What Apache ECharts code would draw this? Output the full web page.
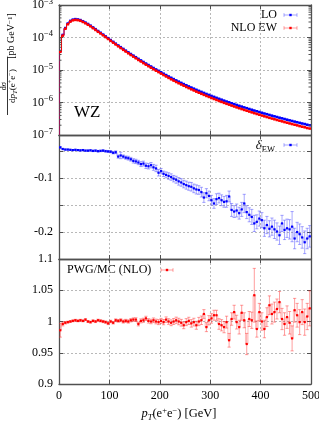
<!DOCTYPE html>
<html><head><meta charset="utf-8">
<script src="https://cdn.jsdelivr.net/npm/echarts@6/dist/echarts.min.js"></script>
<style>html,body{margin:0;padding:0;background:#fff}#c{width:319px;height:421px}</style>
</head><body><div id="c"></div>
<script>
// ---------- data ----------
const binWidth = 5;
const binCenters = [2.5,7.5,12.5,17.5,22.5,27.5,32.5,37.5,42.5,47.5,
52.5,57.5,62.5,67.5,72.5,77.5,82.5,87.5,92.5,97.5,
102.5,107.5,112.5,117.5,122.5,127.5,132.5,137.5,142.5,147.5,
152.5,157.5,162.5,167.5,172.5,177.5,182.5,187.5,192.5,197.5,
202.5,207.5,212.5,217.5,222.5,227.5,232.5,237.5,242.5,247.5,
252.5,257.5,262.5,267.5,272.5,277.5,282.5,287.5,292.5,297.5,
302.5,307.5,312.5,317.5,322.5,327.5,332.5,337.5,342.5,347.5,
352.5,357.5,362.5,367.5,372.5,377.5,382.5,387.5,392.5,397.5,
402.5,407.5,412.5,417.5,422.5,427.5,432.5,437.5,442.5,447.5,
452.5,457.5,462.5,467.5,472.5,477.5,482.5,487.5,492.5,497.5];

const loXsec = [3.80e-5,1.20e-4,1.95e-4,2.69e-4,3.24e-4,3.55e-4,3.67e-4,3.59e-4,3.43e-4,3.16e-4,
2.88e-4,2.60e-4,2.32e-4,2.04e-4,1.80e-4,1.58e-4,1.40e-4,1.23e-4,1.08e-4,9.51e-5,
8.35e-5,7.34e-5,6.46e-5,5.69e-5,5.03e-5,4.45e-5,3.94e-5,3.49e-5,3.10e-5,2.77e-5,
2.47e-5,2.20e-5,1.97e-5,1.76e-5,1.58e-5,1.42e-5,1.28e-5,1.15e-5,1.04e-5,9.44e-6,
8.51e-6,7.69e-6,6.97e-6,6.32e-6,5.75e-6,5.24e-6,4.78e-6,4.38e-6,4.01e-6,3.68e-6,
3.39e-6,3.12e-6,2.88e-6,2.66e-6,2.46e-6,2.28e-6,2.12e-6,1.97e-6,1.83e-6,1.71e-6,
1.59e-6,1.49e-6,1.39e-6,1.30e-6,1.22e-6,1.14e-6,1.07e-6,1.01e-6,9.47e-7,8.91e-7,
8.39e-7,7.91e-7,7.47e-7,7.05e-7,6.67e-7,6.31e-7,5.97e-7,5.65e-7,5.36e-7,5.09e-7,
4.83e-7,4.58e-7,4.36e-7,4.14e-7,3.94e-7,3.75e-7,3.57e-7,3.40e-7,3.25e-7,3.10e-7,
2.96e-7,2.82e-7,2.70e-7,2.58e-7,2.47e-7,2.36e-7,2.26e-7,2.17e-7,2.07e-7,1.99e-7];

const nloXsec = [3.64e-5,1.145e-4,1.86e-4,2.56e-4,3.08e-4,3.38e-4,3.49e-4,3.42e-4,3.27e-4,3.01e-4,
2.74e-4,2.47e-4,2.21e-4,1.94e-4,1.71e-4,1.50e-4,1.33e-4,1.17e-4,1.03e-4,9.03e-5,
7.92e-5,6.95e-5,6.11e-5,5.37e-5,4.74e-5,4.18e-5,3.70e-5,3.27e-5,2.90e-5,2.58e-5,
2.30e-5,2.04e-5,1.83e-5,1.63e-5,1.46e-5,1.31e-5,1.18e-5,1.057e-5,9.54e-6,8.64e-6,
7.76e-6,7.00e-6,6.33e-6,5.72e-6,5.19e-6,4.72e-6,4.29e-6,3.92e-6,3.58e-6,3.28e-6,
3.01e-6,2.77e-6,2.55e-6,2.35e-6,2.16e-6,2.00e-6,1.855e-6,1.72e-6,1.594e-6,1.484e-6,
1.375e-6,1.286e-6,1.197e-6,1.117e-6,1.046e-6,9.75e-7,9.13e-7,8.60e-7,8.04e-7,7.55e-7,
7.09e-7,6.67e-7,6.28e-7,5.91e-7,5.58e-7,5.27e-7,4.97e-7,4.70e-7,4.44e-7,4.21e-7,
3.97e-7,3.76e-7,3.57e-7,3.38e-7,3.21e-7,3.05e-7,2.90e-7,2.76e-7,2.63e-7,2.50e-7,
2.39e-7,2.27e-7,2.17e-7,2.07e-7,1.98e-7,1.88e-7,1.80e-7,1.73e-7,1.64e-7,1.58e-7];

const deltaEW = [-0.043,-0.046,-0.047,-0.047,-0.0475,-0.048,-0.0475,-0.048,-0.0485,-0.048,
-0.049,-0.049,-0.0485,-0.0495,-0.049,-0.050,-0.0495,-0.049,-0.050,-0.0505,
-0.051,-0.053,-0.052,-0.060,-0.058,-0.060,-0.062,-0.063,-0.065,-0.068,
-0.069,-0.071,-0.074,-0.073,-0.077,-0.078,-0.076,-0.080,-0.082,-0.090,
-0.087,-0.092,-0.094,-0.096,-0.098,-0.101,-0.103,-0.106,-0.108,-0.111,
-0.113,-0.115,-0.116,-0.119,-0.121,-0.122,-0.126,-0.136,-0.128,-0.133,
-0.141,-0.147,-0.139,-0.137,-0.141,-0.144,-0.143,-0.134,-0.159,-0.162,
-0.160,-0.165,-0.158,-0.147,-0.163,-0.168,-0.172,-0.184,-0.181,-0.175,
-0.178,-0.193,-0.187,-0.194,-0.190,-0.195,-0.199,-0.206,-0.184,-0.196,
-0.193,-0.195,-0.190,-0.212,-0.200,-0.204,-0.210,-0.219,-0.212,-0.208];

const deltaErr = [0.0015,0.0012,0.001,0.001,0.001,0.001,0.001,0.001,0.0012,0.0012,
0.0012,0.0013,0.0013,0.0014,0.0014,0.0015,0.0015,0.0016,0.0016,0.0017,
0.002,0.002,0.0025,0.003,0.006,0.003,0.003,0.0035,0.0035,0.004,
0.004,0.004,0.0045,0.0045,0.005,0.005,0.005,0.0055,0.006,0.006,
0.005,0.005,0.0055,0.006,0.006,0.006,0.0065,0.007,0.007,0.007,
0.0075,0.0075,0.008,0.008,0.0085,0.008,0.009,0.009,0.0085,0.009,
0.009,0.009,0.010,0.009,0.010,0.010,0.011,0.010,0.012,0.011,
0.012,0.011,0.013,0.017,0.012,0.013,0.014,0.015,0.013,0.014,
0.014,0.015,0.016,0.015,0.016,0.017,0.016,0.017,0.015,0.018,
0.017,0.018,0.028,0.019,0.018,0.019,0.020,0.021,0.019,0.020];

const ratioMC = [0.986,0.996,0.998,0.999,1.000,1.001,1.002,1.001,1.002,1.001,
1.003,1.000,0.999,1.001,1.000,1.002,1.001,1.000,0.999,0.997,
1.000,0.998,1.002,1.001,1.002,1.000,1.001,1.000,1.002,1.003,
1.003,0.996,1.001,1.002,1.005,1.001,1.000,1.002,1.000,0.999,
1.001,0.999,1.003,1.000,0.998,1.000,1.002,1.000,0.998,0.994,
0.999,1.001,0.997,0.999,0.994,1.000,1.002,1.012,0.991,1.002,
1.005,1.010,1.010,0.996,0.994,0.991,0.999,0.970,1.004,1.015,
0.999,0.991,1.014,1.002,0.964,1.004,1.002,1.042,0.988,1.015,
1.000,0.988,1.007,1.026,1.012,1.015,1.020,1.031,1.004,0.996,
1.007,0.998,0.973,1.018,1.010,0.999,1.015,0.999,1.008,1.021];

const ratioErr = [0.011,0.003,0.002,0.0015,0.0015,0.0015,0.0015,0.0015,0.0015,0.0015,
0.0015,0.0015,0.0016,0.0016,0.0017,0.0017,0.0018,0.0018,0.0019,0.002,
0.002,0.002,0.0022,0.0022,0.0024,0.0025,0.0025,0.0026,0.0027,0.0028,
0.003,0.003,0.0032,0.0033,0.0034,0.0035,0.0036,0.0037,0.0038,0.004,
0.004,0.0042,0.0044,0.0045,0.0047,0.0048,0.005,0.0052,0.0054,0.0055,
0.0056,0.0058,0.006,0.0062,0.0064,0.0066,0.0068,0.007,0.0072,0.0074,
0.0076,0.008,0.008,0.0085,0.009,0.009,0.0095,0.011,0.010,0.011,
0.011,0.011,0.012,0.012,0.017,0.012,0.013,0.043,0.013,0.014,
0.014,0.014,0.015,0.015,0.016,0.016,0.016,0.017,0.017,0.018,
0.018,0.018,0.020,0.019,0.019,0.020,0.020,0.021,0.021,0.028];

const xTicks = [0, 100, 200, 300, 400, 500];
const topDecades = [1e-7, 1e-6, 1e-5, 1e-4, 1e-3];
const logMinorMult = [2, 3, 4, 5, 6, 7, 8, 9];
const midRange = [-0.25, -0.02];
const midLabels = [-0.1, -0.2];
const botRange = [0.9, 1.1];

// ---------- style ----------
const FONT = "'Liberation Serif', 'DejaVu Serif', serif";
const AX = '#505050';
const GRIDC = '#b8b8b8';
const BLUE = '#0000ff', BLUE_L = 'rgba(60,60,255,0.45)';
const RED = '#ff0000', RED_L = 'rgba(255,40,40,0.45)';

const chart = echarts.init(document.getElementById('c'), null, {renderer: 'canvas'});

function buildData(vals, errs, firstPrev) {
  return binCenters.map((x, i) => [x, vals[i], errs ? errs[i] : 0, i === 0 ? firstPrev : vals[i - 1]]);
}

function makeRender(color, light, stepColor, stepW, ps) {
  return function (params, api) {
    const x = api.value(0), y = api.value(1), e = api.value(2), prev = api.value(3);
    const c = api.coord([x, y]);
    const l = api.coord([x - binWidth / 2, y]);
    const r = api.coord([x + binWidth / 2, y]);
    const p = api.coord([x - binWidth / 2, prev]);
    const ch = [];
    ch.push({type: 'line', shape: {x1: p[0], y1: p[1], x2: l[0], y2: l[1]}, style: {stroke: stepColor, lineWidth: stepW}});
    ch.push({type: 'line', shape: {x1: l[0], y1: l[1], x2: r[0], y2: r[1]}, style: {stroke: stepColor, lineWidth: stepW}});
    if (e > 0) {
      const t = api.coord([x, y + e]), b = api.coord([x, y - e]);
      ch.push({type: 'line', shape: {x1: c[0], y1: t[1], x2: c[0], y2: b[1]}, style: {stroke: light, lineWidth: 1}});
      ch.push({type: 'line', shape: {x1: c[0] - 1.6, y1: t[1], x2: c[0] + 1.6, y2: t[1]}, style: {stroke: light, lineWidth: 1}});
      ch.push({type: 'line', shape: {x1: c[0] - 1.6, y1: b[1], x2: c[0] + 1.6, y2: b[1]}, style: {stroke: light, lineWidth: 1}});
    }
    ch.push({type: 'rect', shape: {x: c[0] - ps / 2, y: c[1] - ps / 2, width: ps, height: ps}, style: {fill: color}});
    return {type: 'group', children: ch};
  };
}

function minorTickRender(params, api) {
  const v = api.value(0);
  const a = api.coord([xTicks[0], v]);
  const b = api.coord([xTicks[xTicks.length - 1], v]);
  return {type: 'group', children: [
    {type: 'line', shape: {x1: a[0], y1: a[1], x2: a[0] + 2.5, y2: a[1]}, style: {stroke: AX, lineWidth: 1}},
    {type: 'line', shape: {x1: b[0] - 2.5, y1: b[1], x2: b[0], y2: b[1]}, style: {stroke: AX, lineWidth: 1}}
  ]};
}

const minorData = [];
topDecades.slice(0, -1).forEach(d => logMinorMult.forEach(m => minorData.push([d * m])));

const grids = [
  {left: 59, right: 8, top: 5, height: 130},
  {left: 59, right: 8, top: 135, height: 124},
  {left: 59, right: 8, top: 259, height: 125}
].map(g => Object.assign(g, {show: false, containLabel: false, outerBoundsMode: 'none'}));

const axLine = {show: true, onZero: false, lineStyle: {color: AX, width: 1.3}};
const axTick = {show: true, inside: true, length: 4, lineStyle: {color: AX, width: 1}};
const split = {show: true, lineStyle: {color: GRIDC, type: [2, 2], width: 1}};
const lblBase = {color: '#000', fontFamily: FONT, fontSize: 12};

const xAxis = [];
[0, 1, 2].forEach(gi => {
  xAxis.push({type: 'value', gridIndex: gi, min: xTicks[0], max: xTicks[xTicks.length - 1], interval: 100, position: 'bottom',
    axisLine: axLine, axisTick: axTick, splitLine: split,
    axisLabel: Object.assign({show: gi === 2, margin: 6, showMinLabel: true, showMaxLabel: true}, lblBase)});
  xAxis.push({type: 'value', gridIndex: gi, min: xTicks[0], max: xTicks[xTicks.length - 1], interval: 100, position: 'top',
    axisLine: axLine, axisTick: axTick, splitLine: {show: false}, axisLabel: {show: false}});
});

const yAxis = [
  {type: 'log', logBase: 10, gridIndex: 0, min: topDecades[0], max: topDecades[topDecades.length - 1], position: 'left',
    axisLine: axLine, axisTick: axTick, splitLine: split,
    axisLabel: Object.assign({margin: 6, showMinLabel: true, showMaxLabel: true, lineHeight: 16,
      formatter: v => '10{s|' + String(Math.round(Math.log10(v))).replace('-', '\u2212') + '}',
      rich: {s: {fontFamily: FONT, fontSize: 8.5, verticalAlign: 'top', lineHeight: 9, color: '#000'}}}, lblBase)},
  {type: 'log', logBase: 10, gridIndex: 0, min: topDecades[0], max: topDecades[topDecades.length - 1], position: 'right',
    axisLine: axLine, axisTick: axTick, splitLine: {show: false}, axisLabel: {show: false}},
  {type: 'value', gridIndex: 1, min: midRange[0], max: midRange[1], interval: 0.05, position: 'left',
    axisLine: axLine, axisTick: axTick, splitLine: split,
    axisLabel: Object.assign({margin: 6, showMinLabel: true, showMaxLabel: true,
      formatter: v => midLabels.some(m => Math.abs(m - v) < 1e-6) ? String(+v.toFixed(2)) : ''}, lblBase)},
  {type: 'value', gridIndex: 1, min: midRange[0], max: midRange[1], interval: 0.05, position: 'right',
    axisLine: axLine, axisTick: axTick, splitLine: {show: false}, axisLabel: {show: false}},
  {type: 'value', gridIndex: 2, min: botRange[0], max: botRange[1], interval: 0.05, position: 'left',
    axisLine: axLine, axisTick: axTick, splitLine: split,
    axisLabel: Object.assign({margin: 6, showMinLabel: true, showMaxLabel: true,
      formatter: v => String(+v.toFixed(2))}, lblBase)},
  {type: 'value', gridIndex: 2, min: botRange[0], max: botRange[1], interval: 0.05, position: 'right',
    axisLine: axLine, axisTick: axTick, splitLine: {show: false}, axisLabel: {show: false}}
];

const series = [
  {type: 'custom', name: 'LO', xAxisIndex: 0, yAxisIndex: 0, clip: true, silent: true,
    data: buildData(loXsec, null, topDecades[0]), renderItem: makeRender(BLUE, BLUE_L, BLUE, 1, 2.6), z: 3},
  {type: 'custom', name: 'NLO EW', xAxisIndex: 0, yAxisIndex: 0, clip: true, silent: true,
    data: buildData(nloXsec, null, topDecades[0]), renderItem: makeRender(RED, RED_L, RED, 1, 2.6), z: 4},
  {type: 'custom', name: 'minor', xAxisIndex: 0, yAxisIndex: 0, silent: true,
    data: minorData, renderItem: minorTickRender, z: 5},
  {type: 'custom', name: 'deltaEW', xAxisIndex: 2, yAxisIndex: 2, clip: true, silent: true,
    data: buildData(deltaEW, deltaErr, deltaEW[0]), renderItem: makeRender(BLUE, BLUE_L, 'rgba(60,60,255,0.3)', 1, 2.2), z: 3},
  {type: 'custom', name: 'ratio', xAxisIndex: 4, yAxisIndex: 4, clip: true, silent: true,
    data: buildData(ratioMC, ratioErr, ratioMC[0]), renderItem: makeRender(RED, RED_L, 'rgba(255,40,40,0.3)', 1, 2.2), z: 3}
];

function legendSample(x1, x2, y, color, light) {
  return [
    {type: 'line', shape: {x1: x1, y1: y, x2: x2, y2: y}, style: {stroke: light, lineWidth: 1}},
    {type: 'line', shape: {x1: x1, y1: y - 1.8, x2: x1, y2: y + 1.8}, style: {stroke: light, lineWidth: 1}},
    {type: 'line', shape: {x1: x2, y1: y - 1.8, x2: x2, y2: y + 1.8}, style: {stroke: light, lineWidth: 1}},
    {type: 'rect', shape: {x: (x1 + x2) / 2 - 1.2, y: y - 1.2, width: 2.4, height: 2.4}, style: {fill: color}}
  ];
}

const txt = (x, y, text, size, align) => ({type: 'text', x: x, y: y, silent: true,
  style: {text: text, fill: '#000', font: size + 'px ' + FONT, align: align, verticalAlign: 'middle'}});

const graphic = [].concat(
  [txt(277, 15, 'LO', 12, 'right'), txt(277, 28, 'NLO EW', 12, 'right')],
  legendSample(284, 297, 15, BLUE, BLUE_L),
  legendSample(284, 297, 28, RED, RED_L),
  [{type: 'text', x: 275, y: 146, silent: true, style: {text: '{i|δ}{s|EW}', align: 'right', verticalAlign: 'middle',
     rich: {i: {fontFamily: FONT, fontSize: 13, fontStyle: 'italic', lineHeight: 16, verticalAlign: 'middle'},
            s: {fontFamily: FONT, fontSize: 8.5, lineHeight: 9, verticalAlign: 'bottom'}}}}],
  legendSample(284, 297, 145, BLUE, BLUE_L),
  [txt(67, 270, 'PWG/MC (NLO)', 12, 'left')],
  legendSample(161, 173, 270, RED, RED_L),
  [txt(74, 113, 'WZ', 17, 'left')],
  // y-axis title: fraction + unit, rotated
  [{type: 'text', x: 3.5, y: 86, rotation: Math.PI / 2, silent: true,
     style: {text: 'dσ', font: '8px ' + FONT, fill: '#000', align: 'center', verticalAlign: 'middle'}},
   {type: 'line', shape: {x1: 7.5, y1: 58, x2: 7.5, y2: 115}, style: {stroke: '#000', lineWidth: 0.8}, silent: true},
   {type: 'text', x: 12.5, y: 86, rotation: Math.PI / 2, silent: true,
     style: {text: 'd{i|p}{s|T}(e{u|+}e{u|\u2212})', align: 'center', verticalAlign: 'middle', fontFamily: FONT, fontSize: 9, fill: '#000',
       rich: {i: {fontFamily: FONT, fontSize: 9, fontStyle: 'italic', lineHeight: 12},
              s: {fontFamily: FONT, fontSize: 6.5, fontStyle: 'italic', lineHeight: 6, verticalAlign: 'bottom'},
              u: {fontFamily: FONT, fontSize: 6.5, lineHeight: 6, verticalAlign: 'top'}}}},
   {type: 'text', x: 11.5, y: 36, rotation: Math.PI / 2, silent: true,
     style: {text: '[pb GeV{u|\u22121}]', align: 'center', verticalAlign: 'middle', fontFamily: FONT, fontSize: 10, fill: '#000',
       rich: {u: {fontFamily: FONT, fontSize: 7, lineHeight: 7, verticalAlign: 'top'}}}}],
  // x-axis title
  [{type: 'text', x: 179, y: 414, silent: true,
     style: {text: '{i|p}{s|T}(e{u|+}e{u|\u2212}) [GeV]', align: 'center', verticalAlign: 'middle', fontFamily: FONT, fontSize: 12.5, fill: '#000',
       rich: {i: {fontFamily: FONT, fontSize: 12.5, fontStyle: 'italic', lineHeight: 16},
              s: {fontFamily: FONT, fontSize: 8.5, fontStyle: 'italic', lineHeight: 8, verticalAlign: 'bottom'},
              u: {fontFamily: FONT, fontSize: 8.5, lineHeight: 8, verticalAlign: 'top'}}}}]
);

chart.setOption({
  animation: false,
  backgroundColor: '#fff',
  grid: grids,
  xAxis: xAxis,
  yAxis: yAxis,
  series: series,
  graphic: graphic
});
</script>
</body></html>
